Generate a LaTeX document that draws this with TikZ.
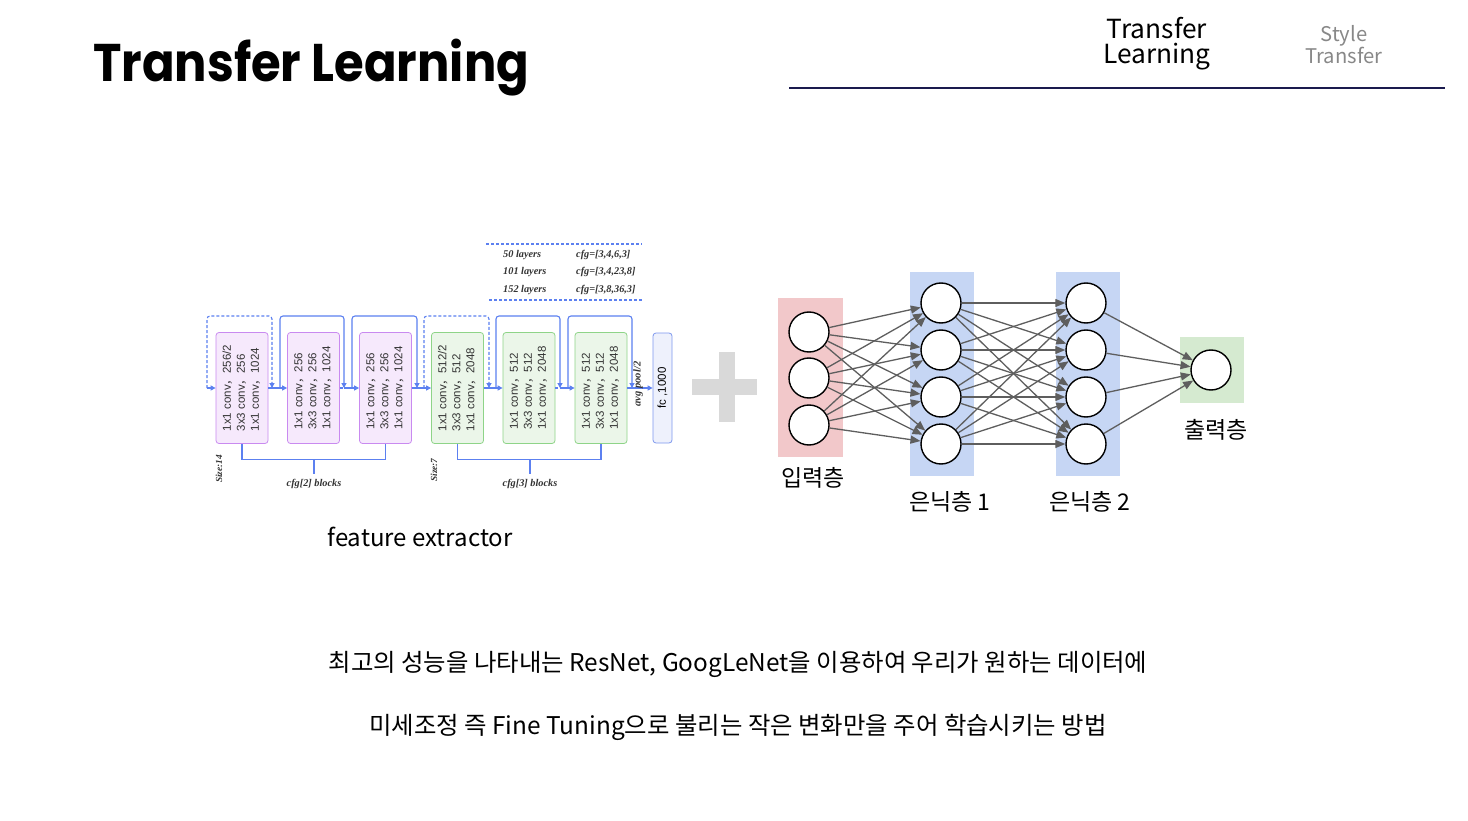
\documentclass[tikz,border=0pt]{standalone}
\usepackage{fontspec}
\usepackage{graphicx}
\usetikzlibrary{arrows.meta}
\setmainfont{Noto Sans CJK KR}
\newfontfamily\krf{Noto Sans CJK KR}
\newfontfamily\titlefont{Poppins}
\newfontfamily\arialf{Liberation Sans}
\newfontfamily\timesf{Liberation Serif}
\definecolor{navy}{HTML}{1A1A4E}
\definecolor{purpf}{HTML}{F6E9FC}
\definecolor{purpd}{HTML}{C98AF0}
\definecolor{greenf}{HTML}{EBF6E9}
\definecolor{greend}{HTML}{8ED488}
\definecolor{fcf}{HTML}{EEF1FC}
\definecolor{fcd}{HTML}{7F98EE}
\definecolor{bluel}{HTML}{5C80F0}
\definecolor{inred}{HTML}{F2C8CA}
\definecolor{hidblue}{HTML}{C6D6F4}
\definecolor{outgreen}{HTML}{D5EAD0}
\definecolor{edgegray}{HTML}{5E5E5E}
\definecolor{plusgray}{HTML}{D9D9D9}
\definecolor{txtgray}{HTML}{888888}
\newcommand{\blocktext}[3]{\rotatebox{90}{\arialf\fontsize{11.5}{14}\selectfont\begin{tabular}{@{}l@{}}#1\\#2\\#3\end{tabular}}}
\newcommand{\cm}{{\krf ，}}
\begin{document}
\begin{tikzpicture}[x=1pt,y=-1pt,
  blk/.style={rounded corners=3, minimum width=52, minimum height=111, inner sep=0, line width=0.8, text=black!80},
  blkp/.style={blk, draw=purpd, fill=purpf},
  blkg/.style={blk, draw=greend, fill=greenf},
  mainln/.style={draw=bluel, line width=1.1},
  arr/.style={-{Triangle[length=5pt,width=5pt]}},
  skipd/.style={mainln, dashed, dash pattern=on 3pt off 2pt, rounded corners=3},
  skips/.style={mainln, rounded corners=3},
  lbl/.style={font=\timesf\bfseries\itshape\fontsize{10.3}{11}\selectfont, text=black!80, inner sep=0},
  neuron/.style={circle, draw=black, line width=1.4, fill=white, minimum size=40, inner sep=0},
  nnedge/.style={draw=edgegray, line width=1.3, -{Triangle[length=10pt,width=8pt]}},
  layerlbl/.style={font=\fontsize{23}{23}\selectfont, inner sep=0, anchor=base},
]
\useasboundingbox (0,0) rectangle (1468,821);
\fill[white] (0,0) rectangle (1468,821);

% Title and header
\node[anchor=base west, inner sep=0] (title) at (93,82) {\titlefont\bfseries\fontsize{53}{53}\selectfont\scalebox{0.907}[1]{Transfer Learning}};
\node[anchor=base, align=center, inner sep=0, font=\fontsize{26.3}{25}\selectfont] (hdrTL) at (1157,64) {Transfer\\Learning};
\node[anchor=base, align=center, inner sep=0, text=txtgray, font=\fontsize{20.2}{21}\selectfont] (hdrST) at (1344,64) {Style\\Transfer};
\coordinate (hl1) at (789,88);
\coordinate (hl2) at (1445,88);
\draw[navy, line width=1.4] (hl1) -- (hl2);

% ResNet blocks
\node[blkp] (b1) at (242,388) {\blocktext{1x1 conv\cm256/2}{3x3 conv\cm256}{1x1 conv\cm1024}};
\node[blkp] (b2) at (313.5,388) {\blocktext{1x1 conv\cm256}{3x3 conv\cm256}{1x1 conv\cm1024}};
\node[blkp] (b3) at (385.5,388) {\blocktext{1x1 conv\cm256}{3x3 conv\cm256}{1x1 conv\cm1024}};
\node[blkg] (b4) at (457.5,388) {\blocktext{1x1 conv\cm512/2}{3x3 conv\cm512}{1x1 conv\cm2048}};
\node[blkg] (b5) at (529,388) {\blocktext{1x1 conv\cm512}{3x3 conv\cm512}{1x1 conv\cm2048}};
\node[blkg] (b6) at (601,388) {\blocktext{1x1 conv\cm512}{3x3 conv\cm512}{1x1 conv\cm2048}};
\node[rounded corners=3, minimum width=19, minimum height=110, inner sep=0, draw=fcd, fill=fcf, line width=0.8] (fc) at (662.5,388) {\rotatebox{90}{\arialf\fontsize{11.5}{12}\selectfont fc ,1000}};

% junctions
\coordinate (in) at (207,388);
\coordinate (j1) at (272,388);
\coordinate (j2) at (344,388);
\coordinate (j3) at (417,388);
\coordinate (j4) at (489,388);
\coordinate (j5) at (560,388);
\coordinate (j6) at (632,388);
\coordinate (s2) at (280,388);
\coordinate (s3) at (352,388);
\coordinate (s4) at (424,388);
\coordinate (s5) at (496,388);
\coordinate (s6) at (568,388);

% main line
\draw[mainln,arr] (in) -- (b1.west);
\draw[mainln,arr] (b1.east) -- (b2.west);
\draw[mainln, dashed, dash pattern=on 3pt off 2pt] (b2.east) -- (j2);
\draw[mainln,arr] (j2) -- (b3.west);
\draw[mainln,arr] (b3.east) -- (b4.west);
\draw[mainln,arr] (b4.east) -- (b5.west);
\draw[mainln, dashed, dash pattern=on 3pt off 2pt] (b5.east) -- (j5);
\draw[mainln,arr] (j5) -- (b6.west);
\draw[mainln,arr] (b6.east) -- (fc.west);

% skip connections
\draw[skipd,arr] (in) -- ++(0,-72) -| (j1);
\draw[skips,arr] (s2) -- ++(0,-72) -| (j2);
\draw[skips,arr] (s3) -- ++(0,-72) -| (j3);
\draw[skipd,arr] (s4) -- ++(0,-72) -| (j4);
\draw[skips,arr] (s5) -- ++(0,-72) -| (j5);
\draw[skips,arr] (s6) -- ++(0,-72) -| (j6);

\node[lbl, rotate=90, font=\timesf\bfseries\itshape\fontsize{10.5}{11}\selectfont] (avg) at (638,384) {avg pool/2};

% brackets
\coordinate (m2) at (314,459);
\coordinate (m3) at (530,459);
\draw[mainln] (b1.south) -- ++(0,16) -| (b3.south);
\draw[mainln] (b4.south) -- ++(0,16) -| (b6.south);
\draw[mainln] (m2) -- ++(0,15);
\draw[mainln] (m3) -- ++(0,15);
\node[lbl] (cfg2) at (314,484) {cfg[2] blocks};
\node[lbl] (cfg3) at (530,484) {cfg[3] blocks};
\node[lbl, rotate=90, font=\timesf\bfseries\itshape\fontsize{9.3}{9}\selectfont] (sz14) at (219,469) {Size:14};
\node[lbl, rotate=90, font=\timesf\bfseries\itshape\fontsize{9.3}{9}\selectfont] (sz7) at (434,470) {Size:7};

% table
\coordinate (t1a) at (486,244);
\coordinate (t1b) at (642,244);
\coordinate (t2a) at (489,300);
\coordinate (t2b) at (643,300);
\draw[skipd] (t1a) -- (t1b);
\draw[skipd] (t2a) -- (t2b);
\node[lbl, anchor=west] (r1a) at (503,255) {50 layers};
\node[lbl, anchor=west] (r2a) at (503,272) {101 layers};
\node[lbl, anchor=west] (r3a) at (503,290) {152 layers};
\node[lbl, anchor=west] (r1b) at (576,255) {cfg=[3,4,6,3]};
\node[lbl, anchor=west] (r2b) at (576,272) {cfg=[3,4,23,8]};
\node[lbl, anchor=west] (r3b) at (576,290) {cfg=[3,8,36,3]};

\node[anchor=base, inner sep=0, font=\fontsize{24}{24}\selectfont] (fe) at (420,546) {feature extractor};

% plus sign
\fill[plusgray] (692,379) rectangle (757,395);
\fill[plusgray] (719,352) rectangle (735,422);

% neural net backgrounds
\fill[inred] (778,298) rectangle (843,457);
\fill[hidblue] (910,272) rectangle (974,476);
\fill[hidblue] (1056,272) rectangle (1120,476);
\fill[outgreen] (1180,337) rectangle (1244,403);

\foreach \i/\y in {1/332,2/378,3/425} \node[neuron] (i\i) at (809,\y) {};
\foreach \i/\y in {1/303,2/350,3/397,4/444} \node[neuron] (h\i) at (941,\y) {};
\foreach \i/\y in {1/303,2/350,3/397,4/444} \node[neuron] (k\i) at (1086,\y) {};
\node[neuron] (o1) at (1211,370) {};

\foreach \a in {1,2,3} \foreach \b in {1,2,3,4} \draw[nnedge] (i\a) -- (h\b);
\foreach \a in {1,2,3,4} \foreach \b in {1,2,3,4} \draw[nnedge] (h\a) -- (k\b);
\foreach \a in {1,2,3,4} \draw[nnedge] (k\a) -- (o1);

\node[layerlbl] (lin) at (813,486) {입력층};
\node[layerlbl] (lh1) at (950,510) {은닉층 1};
\node[layerlbl] (lh2) at (1090,510) {은닉층 2};
\node[layerlbl] (lout) at (1216,438) {출력층};

% body text
\node[anchor=base, inner sep=0, font=\fontsize{24.4}{24}\selectfont] (body1) at (738,671) {최고의 성능을 나타내는 ResNet, GoogLeNet을 이용하여 우리가 원하는 데이터에};
\node[anchor=base, inner sep=0, font=\fontsize{24.4}{24}\selectfont] (body2) at (738,734) {미세조정 즉 Fine Tuning으로 불리는 작은 변화만을 주어 학습시키는 방법};
\end{tikzpicture}
\end{document}
